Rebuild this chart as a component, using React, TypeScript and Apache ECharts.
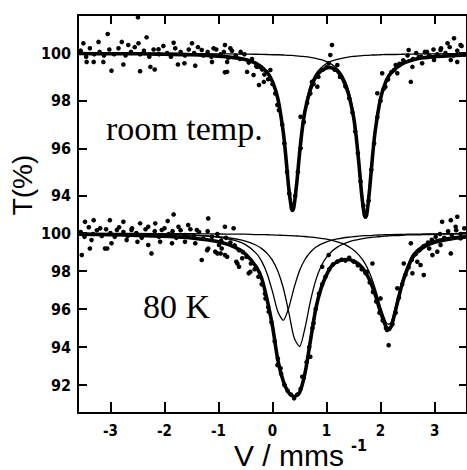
import React, { useEffect, useRef } from "react";
import * as echarts from "echarts";

// ---------- x ticks ----------
const xTicks = [-3, -2, -1, 0, 1, 2, 3];
const topYTicks = [94, 96, 98, 100];
const botYTicks = [92, 94, 96, 98, 100];

// ---------- room temperature fit curves ----------
const topV = [-3.6, -3, -2.5, -2, -1.5, -1, -0.6, -0.3, -0.1, 0, 0.1, 0.2, 0.25, 0.3, 0.35, 0.37, 0.4, 0.45, 0.5, 0.55, 0.6, 0.7, 0.8, 0.9, 1.0, 1.05, 1.1, 1.2, 1.3, 1.4, 1.5, 1.55, 1.6, 1.65, 1.7, 1.72, 1.75, 1.8, 1.85, 1.9, 2.0, 2.1, 2.2, 2.4, 2.7, 3.0, 3.6];
const topComp1 = [99.99, 99.98, 99.98, 99.97, 99.95, 99.9, 99.81, 99.61, 99.25, 98.87, 98.15, 96.75, 95.66, 94.44, 93.59, 93.5, 93.7, 94.68, 95.9, 96.93, 97.7, 98.64, 99.12, 99.39, 99.56, 99.62, 99.67, 99.74, 99.79, 99.83, 99.86, 99.87, 99.88, 99.89, 99.9, 99.9, 99.9, 99.91, 99.92, 99.92, 99.93, 99.94, 99.94, 99.95, 99.97, 99.97, 99.98];
const topComp2 = [99.99, 99.99, 99.99, 99.99, 99.98, 99.97, 99.96, 99.95, 99.94, 99.93, 99.93, 99.92, 99.91, 99.9, 99.9, 99.9, 99.89, 99.88, 99.87, 99.86, 99.85, 99.82, 99.78, 99.72, 99.64, 99.59, 99.52, 99.34, 99.04, 98.5, 97.46, 96.6, 95.46, 94.19, 93.29, 93.2, 93.4, 94.43, 95.71, 96.79, 98.17, 98.87, 99.24, 99.6, 99.8, 99.88, 99.94];
const topTotal = [99.98, 99.97, 99.97, 99.95, 99.93, 99.87, 99.77, 99.56, 99.19, 98.8, 98.08, 96.67, 95.57, 94.34, 93.49, 93.39, 93.59, 94.56, 95.77, 96.79, 97.55, 98.46, 99.0, 99.25, 99.38, 99.4, 99.38, 99.25, 98.9, 98.33, 97.32, 96.47, 95.34, 94.08, 93.19, 93.1, 93.3, 94.34, 95.63, 96.71, 98.1, 98.81, 99.18, 99.55, 99.77, 99.85, 99.92];

// ---------- 80 K fit curves ----------
const botV = [-3.6, -3, -2.5, -2, -1.5, -1, -0.7, -0.5, -0.3, -0.2, -0.1, 0, 0.1, 0.2, 0.3, 0.4, 0.5, 0.6, 0.7, 0.8, 0.9, 1.0, 1.1, 1.2, 1.3, 1.4, 1.5, 1.6, 1.7, 1.8, 1.9, 2.0, 2.1, 2.15, 2.2, 2.3, 2.4, 2.5, 2.6, 2.8, 3.0, 3.3, 3.6];
const botCompA = [99.98, 99.97, 99.95, 99.93, 99.89, 99.78, 99.61, 99.39, 98.93, 98.51, 97.86, 96.92, 95.86, 95.41, 96.06, 97.13, 98.02, 98.61, 98.99, 99.25, 99.42, 99.54, 99.63, 99.69, 99.74, 99.78, 99.81, 99.84, 99.86, 99.87, 99.89, 99.9, 99.91, 99.91, 99.92, 99.93, 99.93, 99.94, 99.94, 99.95, 99.96, 99.97, 99.97];
const botCompB = [99.97, 99.96, 99.95, 99.93, 99.89, 99.81, 99.7, 99.58, 99.36, 99.18, 98.93, 98.56, 97.99, 97.11, 95.85, 94.49, 94.03, 94.99, 96.39, 97.51, 98.25, 98.73, 99.04, 99.26, 99.41, 99.52, 99.61, 99.67, 99.72, 99.76, 99.79, 99.82, 99.84, 99.85, 99.86, 99.87, 99.88, 99.9, 99.9, 99.92, 99.93, 99.95, 99.96];
const botCompC = [99.99, 99.98, 99.98, 99.97, 99.97, 99.95, 99.94, 99.94, 99.92, 99.92, 99.91, 99.9, 99.89, 99.88, 99.87, 99.85, 99.84, 99.82, 99.79, 99.76, 99.72, 99.68, 99.62, 99.54, 99.44, 99.3, 99.11, 98.84, 98.46, 97.89, 97.09, 96.11, 95.32, 95.2, 95.32, 96.4, 97.5, 98.3, 98.9, 99.4, 99.62, 99.78, 99.86];
const botTotal = [99.94, 99.91, 99.88, 99.83, 99.74, 99.54, 99.26, 98.9, 98.21, 97.61, 96.5, 95.1, 93.3, 92.2, 91.6, 91.4, 91.6, 92.6, 94.3, 96.0, 97.1, 97.8, 98.29, 98.49, 98.59, 98.61, 98.53, 98.35, 98.03, 97.52, 96.77, 95.83, 95.07, 94.96, 95.09, 96.2, 97.32, 98.13, 98.75, 99.27, 99.51, 99.69, 99.79];

// ---------- measured points, room temperature ----------
const topPoints = [
  [-3.5, 100.41], [-3.22, 100.47], [-3.05, 100.8], [-2.79, 100.47], [-2.67, 100.34], [-2.48, 100.41], [-2.33, 100.66], [-2.11, 100.16], [-1.83, 100.43], [-1.49, 100.41], [-1.31, 100.13], [-1.09, 100.2], [-0.88, 100.34],
  [-3.44, 99.63], [-3.31, 99.63], [-3.13, 99.63], [-2.98, 99.26], [-2.76, 99.52], [-2.45, 99.24], [-2.26, 99.42], [-2.18, 99.31], [-1.75, 99.52], [-1.63, 99.57], [-1.43, 99.47], [-0.88, 99.19], [-1.12, 99.63],
  [-0.78, 100.2], [-0.59, 100.05], [-0.84, 99.63], [-0.84, 99.21], [-0.47, 99.21], [-0.35, 99.08], [-0.28, 99.42], [-0.19, 99.31], [-0.25, 98.66], [-0.16, 98.79], [-0.04, 99.29], [0.09, 97.82], [0.52, 97.32], [0.83, 98.59], [0.73, 98.79], [1.1, 100.34], [1.07, 99.92], [1.04, 99.57], [1.2, 99.5],
  [2.56, 98.79], [2.59, 99.42], [2.77, 99.57], [2.52, 100.13], [3.36, 100.62], [3.48, 100.34], [3.24, 100.41], [3.11, 100.13], [3.42, 99.63], [3.3, 99.71], [2.99, 99.71], [2.31, 99.15], [2.25, 99.29], [2.12, 98.87], [2.09, 98.58], [1.94, 98.31], [2.03, 99.15], [2.71, 99.84], [2.86, 100.05], [-2.49, 101.5],
  [-3.55, 100.1], [-3.45, 99.85], [-3.38, 100.2], [-3.3, 99.95], [-3.2, 100.05], [-3.12, 99.9], [-3.02, 100.15], [-2.93, 99.95], [-2.85, 100.2], [-2.72, 99.9], [-2.62, 100.05], [-2.55, 100.25], [-2.45, 99.95], [-2.38, 100.1], [-2.28, 99.85], [-2.2, 100.15], [-2.1, 99.95], [-2.02, 100.3], [-1.95, 100.0], [-1.88, 99.85], [-1.8, 100.2], [-1.7, 100.05], [-1.62, 99.9], [-1.55, 100.15], [-1.45, 100.0], [-1.38, 100.25], [-1.28, 99.9], [-1.2, 100.05], [-1.13, 99.85], [-1.04, 100.15], [-0.96, 99.95], [-0.9, 100.05], [-0.82, 99.8], [-0.75, 100.1], [-0.68, 99.9], [-0.6, 99.75], [-0.52, 99.95], [-0.44, 99.6], [-0.38, 99.75], [-0.3, 99.45], [-0.22, 99.4], [-0.15, 99.1], [-0.08, 98.9],
  [0.0, 98.7], [0.05, 98.3], [0.12, 97.6], [0.18, 97.0], [0.22, 96.2], [0.27, 95.0], [0.31, 94.1], [0.36, 93.5], [0.42, 94.0], [0.47, 95.0], [0.52, 96.0], [0.58, 97.1], [0.64, 97.9], [0.7, 98.3], [0.76, 98.7], [0.85, 99.0], [0.93, 99.3], [1.0, 99.4], [1.15, 99.3], [1.25, 99.0], [1.35, 98.6], [1.42, 98.1], [1.48, 97.5], [1.53, 96.7], [1.58, 95.8], [1.63, 94.6], [1.68, 93.6], [1.73, 93.2], [1.78, 93.8], [1.83, 95.1], [1.88, 96.2], [1.94, 97.3], [2.0, 98.0], [2.06, 98.5], [2.14, 98.9], [2.2, 99.2], [2.28, 99.5], [2.35, 99.55],
  [2.42, 99.7], [2.5, 99.9], [2.6, 99.75], [2.66, 100.0], [2.75, 99.85], [2.82, 100.05], [2.9, 99.9], [2.98, 100.15], [3.05, 99.95], [3.12, 100.2], [3.2, 100.0], [3.28, 100.25], [3.35, 99.9], [3.42, 100.1], [3.5, 100.3], [3.56, 99.95],
];

// ---------- measured points, 80 K ----------
const botPoints = [
  [-3.47, 100.59], [-3.31, 100.68], [-3.19, 100.25], [-3.01, 100.68], [-2.88, 100.16], [-2.76, 100.59], [-2.61, 100.16], [-2.45, 100.51], [-2.3, 100.33], [-2.17, 100.51], [-1.94, 100.63], [-1.83, 100.98], [-2.05, 100.16], [-1.74, 100.33], [-1.56, 100.42], [-1.4, 100.16], [-1.19, 100.77], [-0.88, 100.33], [-0.72, 100.25],
  [-3.53, 98.84], [-3.38, 99.19], [-3.35, 99.63], [-3.1, 99.19], [-2.98, 99.46], [-2.7, 99.63], [-2.5, 99.54], [-2.3, 99.37], [-2.24, 98.93], [-2.08, 99.54], [-1.86, 99.46], [-1.62, 99.54], [-1.43, 99.46], [-1.31, 98.58], [-1.19, 99.19], [-1.06, 99.02], [-0.88, 98.84], [-0.94, 99.19], [-3.06, 99.19], [-1.21, 99.1], [-1.02, 98.93], [-0.84, 98.75], [-0.65, 98.4],
  [-0.99, 99.37], [-0.96, 98.93], [-0.62, 98.23], [-0.44, 97.88], [-0.56, 98.67], [-0.41, 97.96], [-0.67, 98.49], [-0.13, 96.56], [-0.07, 95.86], [0.09, 93.05], [0.15, 92.88], [0.55, 92.44], [0.7, 93.49], [0.76, 95.25], [0.92, 98.23], [1.04, 98.84], [0.36, 90.42],
  [1.85, 98.4], [2.56, 99.46], [2.74, 98.32], [2.8, 97.79], [2.59, 97.88], [2.96, 98.84], [3.05, 99.02], [3.14, 100.59], [3.3, 100.68], [3.42, 100.86], [3.39, 100.33], [3.3, 98.93], [3.11, 99.37], [2.15, 94.1], [2.12, 94.9], [2.0, 96.56], [2.31, 97.09], [1.75, 97.96], [2.43, 98.4], [2.68, 98.49], [2.9, 99.19], [3.48, 99.72],
  [-3.55, 100.05], [-3.48, 99.8], [-3.4, 100.3], [-3.32, 99.95], [-3.25, 100.15], [-3.16, 99.85], [-3.08, 100.2], [-3.0, 100.0], [-2.92, 99.8], [-2.84, 100.3], [-2.76, 100.05], [-2.68, 99.85], [-2.6, 100.25], [-2.52, 100.0], [-2.42, 99.75], [-2.35, 100.2], [-2.26, 99.9], [-2.18, 100.1], [-2.1, 99.8], [-2.0, 100.25], [-1.92, 99.95], [-1.85, 100.1], [-1.78, 99.75], [-1.7, 100.15], [-1.62, 99.9], [-1.52, 100.2], [-1.45, 99.85], [-1.36, 100.05], [-1.28, 99.7], [-1.2, 100.1], [-1.12, 99.8], [-1.02, 99.95], [-0.95, 99.6], [-0.86, 99.75], [-0.78, 99.5], [-0.7, 99.35], [-0.62, 99.1], [-0.55, 99.0], [-0.48, 98.75],
  [-0.4, 98.4], [-0.33, 98.1], [-0.26, 97.7], [-0.2, 97.3], [-0.14, 96.8], [-0.08, 96.1], [-0.02, 95.3], [0.04, 94.3], [0.1, 93.4], [0.16, 92.6], [0.22, 92.0], [0.28, 91.7], [0.34, 91.5], [0.4, 91.3], [0.46, 91.5], [0.52, 91.8], [0.58, 92.4], [0.63, 93.2], [0.68, 94.0], [0.74, 95.0], [0.8, 96.0], [0.86, 96.8], [0.92, 97.3], [0.98, 97.7], [1.05, 98.1], [1.12, 98.35], [1.2, 98.5], [1.28, 98.6], [1.35, 98.55], [1.42, 98.7], [1.5, 98.5], [1.58, 98.3], [1.65, 98.1], [1.72, 97.9], [1.8, 97.4], [1.86, 96.9], [1.92, 96.4], [1.98, 95.8], [2.04, 95.4], [2.1, 95.0], [2.16, 94.95], [2.22, 95.2], [2.28, 95.8], [2.34, 96.6], [2.4, 97.3], [2.46, 97.8], [2.52, 98.2], [2.58, 98.6], [2.65, 98.9], [2.72, 99.1], [2.8, 99.3],
  [2.88, 99.5], [2.95, 99.65], [3.02, 99.8], [3.1, 99.95], [3.18, 99.75], [3.25, 100.1], [3.32, 99.9], [3.4, 100.15], [3.48, 99.95], [3.55, 100.25],
];

const NARROW = "'Liberation Sans Narrow', 'Arial Narrow', 'DejaVu Sans Condensed', 'Liberation Sans', sans-serif";
const SANS = "'Liberation Sans', Arial, sans-serif";
const SERIF = "'Liberation Serif', 'Times New Roman', serif";

const zip = (xs: number[], ys: number[]) => xs.map((x, i) => [x, ys[i]]);

export default function App() {
  const ref = useRef<HTMLDivElement>(null);
  useEffect(() => {
    document.body.style.margin = "0";
    if (!ref.current) return;
    const chart = echarts.init(ref.current, undefined, { renderer: "svg" });
    const black = "#000";
    const axisLine = { show: true, onZero: false, lineStyle: { color: black, width: 2 } };
    const tickStyle = { color: black, width: 2 };
    const label = { color: black, fontFamily: NARROW, fontWeight: "bold" as const, fontSize: 16 };
    const thin = (data: number[][], xi: number, yi: number) => ({
      type: "line", xAxisIndex: xi, yAxisIndex: yi, data, showSymbol: false, smooth: 0.25,
      lineStyle: { color: black, width: 1.3 }, z: 3,
    });
    const thick = (data: number[][], xi: number, yi: number) => ({
      type: "line", xAxisIndex: xi, yAxisIndex: yi, data, showSymbol: false, smooth: 0.25,
      lineStyle: { color: black, width: 3.6 }, z: 4,
    });
    const pts = (data: number[][], xi: number, yi: number) => ({
      type: "scatter", xAxisIndex: xi, yAxisIndex: yi, data, symbol: "circle", symbolSize: 4.6,
      itemStyle: { color: black, opacity: 1 }, z: 2,
    });

    chart.setOption({
      animation: false,
      backgroundColor: "#fff",
      grid: [
        { left: 78, right: 0, top: 15, height: 218 },
        { left: 78, right: 0, top: 200, height: 213 },
      ],
      xAxis: [
        {
          gridIndex: 0, type: "value", position: "top", min: -3.6, max: 3.6,
          axisLine, splitLine: { show: false },
          axisTick: { inside: true, length: 9, customValues: xTicks, lineStyle: tickStyle },
          axisLabel: { show: false },
        },
        {
          gridIndex: 1, type: "value", position: "bottom", min: -3.6, max: 3.6,
          axisLine, splitLine: { show: false },
          axisTick: { inside: true, length: 11, customValues: xTicks, lineStyle: tickStyle },
          axisLabel: { ...label, fontSize: 15, lineHeight: 15, margin: 10, customValues: xTicks, formatter: (v: number) => String(v) },
        },
      ],
      yAxis: [
        {
          gridIndex: 0, type: "value", position: "left", min: 92.44, max: 101.6,
          axisLine, splitLine: { show: false },
          axisTick: { inside: true, length: 9, customValues: topYTicks, lineStyle: tickStyle },
          axisLabel: { ...label, margin: 7, customValues: topYTicks },
        },
        {
          gridIndex: 0, type: "value", position: "right", min: 92.44, max: 101.6,
          axisLine, splitLine: { show: false },
          axisTick: { inside: true, length: 8, customValues: topYTicks, lineStyle: tickStyle },
          axisLabel: { show: false },
        },
        {
          gridIndex: 1, type: "value", position: "left", min: 90.53, max: 101.74,
          axisLine, splitLine: { show: false },
          axisTick: { inside: true, length: 9, customValues: botYTicks, lineStyle: tickStyle },
          axisLabel: { ...label, margin: 7, customValues: botYTicks },
        },
        {
          gridIndex: 1, type: "value", position: "right", min: 90.53, max: 101.74,
          axisLine, splitLine: { show: false },
          axisTick: { inside: true, length: 8, customValues: botYTicks, lineStyle: tickStyle },
          axisLabel: { show: false },
        },
      ],
      series: [
        pts(topPoints, 0, 0),
        thin(zip(topV, topComp1), 0, 0),
        thin(zip(topV, topComp2), 0, 0),
        thick(zip(topV, topTotal), 0, 0),
        pts(botPoints, 1, 2),
        thin(zip(botV, botCompA), 1, 2),
        thin(zip(botV, botCompB), 1, 2),
        thin(zip(botV, botCompC), 1, 2),
        thick(zip(botV, botTotal), 1, 2),
      ],
      graphic: [
        { type: "text", x: 106, y: 128, style: { text: "room temp.", fontFamily: SERIF, fontSize: 34, fill: black, verticalAlign: "middle" } },
        { type: "text", x: 143, y: 306, style: { text: "80 K", fontFamily: SERIF, fontSize: 34, fill: black, verticalAlign: "middle" } },
        { type: "text", x: 22, y: 185, rotation: Math.PI / 2, style: { text: "T(%)", fontFamily: SANS, fontSize: 28, fill: black, align: "center", verticalAlign: "middle" } },
        { type: "text", x: 234, y: 455, style: { text: "V / mms", fontFamily: SANS, fontSize: 30, lineHeight: 26, fill: black, verticalAlign: "middle" } },
        { type: "text", x: 351, y: 445, style: { text: "-1", fontFamily: NARROW, fontWeight: "bold", fontSize: 16, lineHeight: 16, fill: black, verticalAlign: "middle" } },
      ],
    });
    return () => chart.dispose();
  }, []);
  return <div ref={ref} style={{ position: "absolute", left: 0, top: 0, width: 467, height: 470 }} />;
}
